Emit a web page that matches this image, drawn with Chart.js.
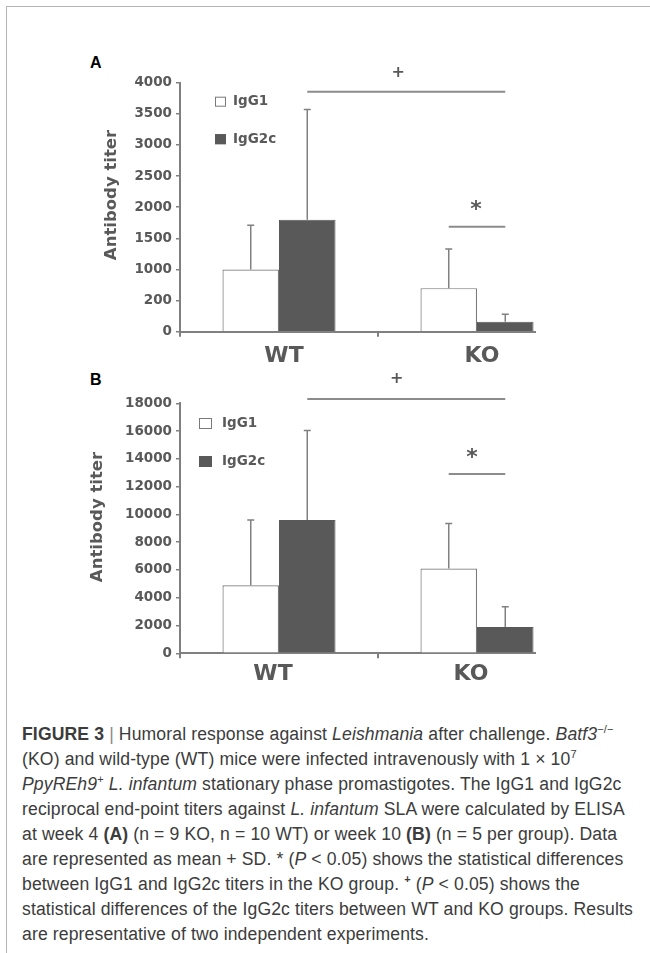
<!DOCTYPE html>
<html lang="en">
<head>
<meta charset="UTF-8">
<title>Figure 3 - Humoral response (antibody titers)</title>
<script src="https://cdn.jsdelivr.net/npm/chart.js"></script>
<style>
  body { margin: 0; background: #fff; }
  .page { position: relative; width: 650px; height: 953px; overflow: hidden; background: #fff; }
  .frame { position: absolute; left: 6px; top: 6px; right: -10px; bottom: -10px;
           border-top: 1px solid #b4b4b4; border-left: 1px solid #b4b4b4; }
  .panel { position: absolute; left: 0; width: 536px; overflow: hidden; }
  .panel canvas { display: block; }
  #panelA { top: 0; height: 370px; }
  #panelB { top: 370px; height: 330px; }
  .letter { position: absolute; left: 90px; font: bold 16px/16px 'Liberation Sans', Arial, sans-serif; color: #000; }
  .caption { position: absolute; left: 22px; top: 722px; font: 17.6px/25px 'Liberation Sans', Arial, sans-serif;
             letter-spacing: 0.12px; color: #3c3c3c; white-space: nowrap; }
  .caption sup { font-size: 11px; line-height: 0; vertical-align: 7px; }
  .caption .sep { color: #888; }
</style>
</head>
<body>
<div class="page">
  <div class="frame"></div>
  <div class="letter" style="top:55px">A</div>
  <div class="letter" style="top:372px">B</div>
  <div class="panel" id="panelA"><canvas id="chartA" width="576" height="370"></canvas></div>
  <div class="panel" id="panelB"><canvas id="chartB" width="576" height="330"></canvas></div>
  <div class="caption">
    <div><b>FIGURE 3</b> <span class="sep">|</span> Humoral response against <i>Leishmania</i> after challenge. <i>Batf3</i><sup>−/−</sup></div>
    <div>(KO) and wild-type (WT) mice were infected intravenously with 1 × 10<sup>7</sup></div>
    <div><i>PpyREh9</i><sup>+</sup> <i>L. infantum</i> stationary phase promastigotes. The IgG1 and IgG2c</div>
    <div>reciprocal end-point titers against <i>L. infantum</i> SLA were calculated by ELISA</div>
    <div>at week 4 <b>(A)</b> (n = 9 KO, n = 10 WT) or week 10 <b>(B)</b> (n = 5 per group). Data</div>
    <div>are represented as mean + SD. * (<i>P</i> &lt; 0.05) shows the statistical differences</div>
    <div>between IgG1 and IgG2c titers in the KO group. <sup><b>+</b></sup> (<i>P</i> &lt; 0.05) shows the</div>
    <div>statistical differences of the IgG2c titers between WT and KO groups. Results</div>
    <div>are representative of two independent experiments.</div>
  </div>
</div>

<script>
// categories and series
const groups = ['WT', 'KO'];
const seriesNames = ['IgG1', 'IgG2c'];

// panel A - week 4 (mean and SD)
const igg1A = [1000, 700];
const igg1SdA = [710, 630];
const igg2cA = [1800, 160];
const igg2cSdA = [1770, 120];
// the original axis really reads "200" where 500 belongs
const tickLabelsA = ['0', '200', '1000', '1500', '2000', '2500', '3000', '3500', '4000'];

// panel B - week 10 (mean and SD)
const igg1B = [4900, 6100];
const igg1SdB = [4700, 3250];
const igg2cB = [9600, 1900];
const igg2cSdB = [6450, 1450];
const tickLabelsB = ['0', '2000', '4000', '6000', '8000', '10000', '12000', '14000', '16000', '18000'];

const grey = '#595959';
const axisGrey = '#808080';
const boldFont = 'DejaVu Sans';

// error bars, significance brackets, legend and axis title
const extras = {
  id: 'extras',
  afterDatasetsDraw(chart, args, opts) {
    const ctx = chart.ctx;
    const y = chart.scales.y;
    const area = chart.chartArea;
    ctx.save();

    // mean + SD whiskers
    ctx.strokeStyle = axisGrey;
    ctx.lineWidth = 1.5;
    chart.data.datasets.forEach((ds, d) => {
      chart.getDatasetMeta(d).data.forEach((bar, i) => {
        const top = y.getPixelForValue(ds.data[i] + ds.sd[i]);
        ctx.beginPath();
        ctx.moveTo(bar.x, bar.y);
        ctx.lineTo(bar.x, top);
        ctx.moveTo(bar.x - 3.5, top);
        ctx.lineTo(bar.x + 3.5, top);
        ctx.stroke();
      });
    });

    // brackets
    const g1 = chart.getDatasetMeta(0).data;
    const g2 = chart.getDatasetMeta(1).data;
    const bracket = (x0, x1, b) => {
      const ly = y.getPixelForValue(b.line);
      ctx.strokeStyle = '#8c8c8c';
      ctx.lineWidth = 2;
      ctx.beginPath();
      ctx.moveTo(x0, ly);
      ctx.lineTo(x1, ly);
      ctx.stroke();
      ctx.fillStyle = grey;
      ctx.font = 'bold ' + b.size + 'px ' + boldFont;
      ctx.textAlign = 'center';
      ctx.textBaseline = 'middle';
      ctx.fillText(b.mark, (x0 + x1) / 2 + b.dx, y.getPixelForValue(b.markAt) + b.dy);
    };
    bracket(g2[0].x, g2[1].x, opts.plus);
    bracket(g1[1].x, g2[1].x, opts.star);

    // legend inside the plot area
    const lg = opts.legend;
    ctx.font = 'bold 13.5px ' + boldFont;
    ctx.textAlign = 'left';
    ctx.textBaseline = 'middle';
    chart.data.datasets.forEach((ds, d) => {
      const bx = area.left + lg.dx;
      const by = area.top + lg.dy + d * lg.gap;
      ctx.fillStyle = ds.backgroundColor;
      ctx.fillRect(bx, by, lg.w, lg.h);
      ctx.strokeStyle = ds.borderColor;
      ctx.lineWidth = 1;
      ctx.strokeRect(bx + 0.5, by + 0.5, lg.w - 1, lg.h - 1);
      ctx.fillStyle = grey;
      ctx.fillText(ds.label, bx + lg.w + lg.textGap, by + lg.h / 2);
    });

    // y axis title
    ctx.translate(opts.title.x, opts.title.y);
    ctx.rotate(-Math.PI / 2);
    ctx.font = 'bold 16.5px ' + boldFont;
    ctx.textAlign = 'center';
    ctx.fillStyle = grey;
    ctx.fillText('Antibody titer', 0, 0);
    ctx.restore();
  }
};

function makeChart(id, cfg) {
  const barOpts = { categoryPercentage: 0.571, barPercentage: 1, borderSkipped: 'bottom' };
  return new Chart(document.getElementById(id), {
    type: 'bar',
    data: {
      labels: groups,
      datasets: [
        Object.assign({ label: seriesNames[0], data: cfg.igg1, sd: cfg.igg1Sd,
          backgroundColor: '#ffffff', borderColor: '#7a7a7a', borderWidth: 1.2 }, barOpts),
        Object.assign({ label: seriesNames[1], data: cfg.igg2c, sd: cfg.igg2cSd,
          backgroundColor: grey, borderColor: grey, borderWidth: 1 }, barOpts)
      ]
    },
    options: {
      responsive: false,
      animation: false,
      layout: { padding: { top: cfg.padTop, left: 0, right: 0, bottom: 0 } },
      plugins: {
        legend: { display: false },
        tooltip: { enabled: false },
        extras: cfg.extras
      },
      scales: {
        x: {
          grid: { drawOnChartArea: false, tickLength: 5, color: axisGrey, lineWidth: 2, offset: true },
          border: { color: axisGrey, width: 2 },
          ticks: { font: { family: boldFont, weight: 'bold', size: 22 }, color: grey,
                   padding: cfg.xPad, labelOffset: cfg.labelShift },
          afterFit(s) { s.height = cfg.xHeight; }
        },
        y: {
          min: 0,
          max: cfg.max,
          ticks: { stepSize: cfg.step, callback: (v, i) => cfg.tickLabels[i],
                   font: { family: boldFont, weight: 'bold', size: 13.5 }, color: grey, padding: 4 },
          grid: { drawOnChartArea: false, tickLength: 4, color: axisGrey, lineWidth: 1.5 },
          border: { color: axisGrey, width: 2 },
          afterFit(s) { s.width = 180; }
        }
      }
    },
    plugins: [extras]
  });
}

makeChart('chartA', {
  igg1: igg1A, igg1Sd: igg1SdA, igg2c: igg2cA, igg2cSd: igg2cSdA,
  tickLabels: tickLabelsA, max: 4000, step: 500,
  padTop: 82.7, xHeight: 38.3, xPad: 6, labelShift: 5,
  extras: {
    plus: { line: 3855, markAt: 4160, mark: '+', size: 16, dx: -8, dy: 0 },
    star: { line: 1687, markAt: 2008, mark: '*', size: 22, dx: -1, dy: 4 },
    legend: { dx: 35, dy: 14, w: 11, h: 10, gap: 37.5, textGap: 7 },
    title: { x: 112, y: 195 }
  }
});

makeChart('chartB', {
  igg1: igg1B, igg1Sd: igg1SdB, igg2c: igg2cB, igg2cSd: igg2cSdB,
  tickLabels: tickLabelsB, max: 18000, step: 2000,
  padTop: 33.3, xHeight: 46.7, xPad: 3, labelShift: -6,
  extras: {
    plus: { line: 18310, markAt: 19730, mark: '+', size: 16, dx: -9.5, dy: 0 },
    star: { line: 12910, markAt: 14350, mark: '*', size: 22, dx: -5, dy: 4 },
    legend: { dx: 19, dy: 14.7, w: 13, h: 11, gap: 38, textGap: 10 },
    title: { x: 98, y: 147 }
  }
});
</script>
</body>
</html>
